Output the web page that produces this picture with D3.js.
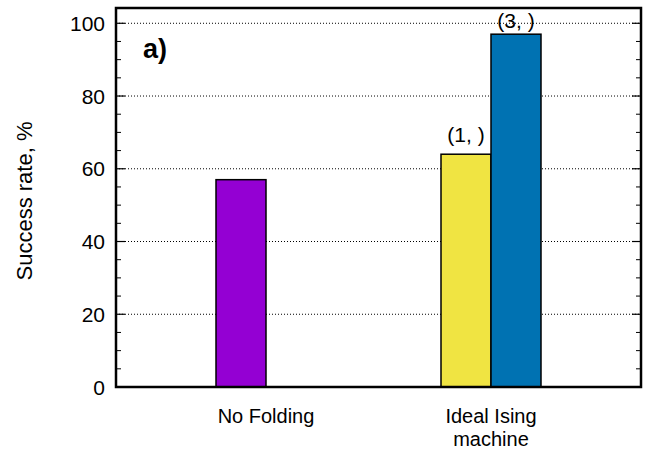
<!DOCTYPE html>
<html><head><meta charset="utf-8">
<script src="https://cdn.jsdelivr.net/npm/d3@7"></script>
<style>
html,body{margin:0;padding:0;background:#fff;}
text{font-family:"Liberation Sans",Arial,Helvetica,sans-serif;fill:#000;}
</style></head>
<body>
<svg id="chart" width="647" height="451"></svg>
<script>
// ---- data ----
const categories = [["No Folding"], ["Ideal Ising", "machine"]];
const seriesA = [57, 64];            // first bar in each group
const seriesAColors = ["#9400d3", "#f0e442"];
const seriesB = [null, 97];          // second bar in each group
const seriesBColor = "#0072b2";
const barLabels = [{cat: 1, series: 0, text: "(1, )"}, {cat: 1, series: 1, text: "(3, )"}];
const yTicks = [0, 20, 40, 60, 80, 100];
const yMinorTicks = d3.range(0, 105, 5);
const panelLabel = "a)";
const yTitle = "Success rate, %";

// ---- layout ----
const svg = d3.select("#chart");
const L = 116, R = 641, T = 8, B = 387;
const x = d3.scaleLinear().domain([-2/3, 5/3]).range([L, R]);
const y = d3.scaleLinear().domain([0, 104.2]).range([B, T]);
const bw = 2/9, off = 1/9;

// gridlines
svg.append("g").selectAll("line").data(yTicks.filter(d => d > 0)).join("line")
  .attr("x1", L).attr("x2", R).attr("y1", d => y(d)).attr("y2", d => y(d))
  .attr("stroke", "#000").attr("stroke-width", 1).attr("stroke-dasharray", "1,2");

// minor ticks (inward, both sides)
const minor = yMinorTicks.filter(d => d > 0 && d % 20 !== 0);
svg.append("g").selectAll("line").data(minor).join("line")
  .attr("x1", L).attr("x2", L + 5).attr("y1", d => y(d)).attr("y2", d => y(d))
  .attr("stroke", "#000").attr("stroke-width", 1);
svg.append("g").selectAll("line").data(minor).join("line")
  .attr("x1", R - 5).attr("x2", R).attr("y1", d => y(d)).attr("y2", d => y(d))
  .attr("stroke", "#000").attr("stroke-width", 1);
// major ticks
svg.append("g").selectAll("line").data(yTicks).join("line")
  .attr("x1", L).attr("x2", L + 9).attr("y1", d => y(d)).attr("y2", d => y(d))
  .attr("stroke", "#000").attr("stroke-width", 1.2);
svg.append("g").selectAll("line").data(yTicks).join("line")
  .attr("x1", R - 9).attr("x2", R).attr("y1", d => y(d)).attr("y2", d => y(d))
  .attr("stroke", "#000").attr("stroke-width", 1.2);

// bars
svg.append("g").selectAll("rect").data(seriesA).join("rect")
  .attr("x", (d, i) => x(i - off - bw/2)).attr("width", x(bw) - x(0))
  .attr("y", d => y(d)).attr("height", d => y(0) - y(d))
  .attr("fill", (d, i) => seriesAColors[i]).attr("stroke", "#000").attr("stroke-width", 1.5);
svg.append("g").selectAll("rect").data(seriesB.map((v, i) => ({v, i})).filter(d => d.v != null)).join("rect")
  .attr("x", d => x(d.i + off - bw/2)).attr("width", x(bw) - x(0))
  .attr("y", d => y(d.v)).attr("height", d => y(0) - y(d.v))
  .attr("fill", seriesBColor).attr("stroke", "#000").attr("stroke-width", 1.5);

// bar labels
const labelGap = [12, 6];
svg.append("g").selectAll("text").data(barLabels).join("text")
  .attr("x", d => x(d.cat + (d.series === 0 ? -off : off)))
  .attr("y", (d, i) => y(d.series === 0 ? seriesA[d.cat] : seriesB[d.cat]) - labelGap[i])
  .attr("text-anchor", "middle").attr("font-size", 21).text(d => d.text);

// frame
svg.append("rect").attr("x", L).attr("y", T).attr("width", R - L).attr("height", B - T)
  .attr("fill", "none").attr("stroke", "#000").attr("stroke-width", 2.5);

// y tick labels
svg.append("g").selectAll("text").data(yTicks).join("text")
  .attr("x", L - 11).attr("y", d => y(d)).attr("dy", "0.36em")
  .attr("text-anchor", "end").attr("font-size", 21).text(d => d);

// x tick labels
const xl = svg.append("g").selectAll("text").data(categories).join("text")
  .attr("text-anchor", "middle").attr("font-size", 20)
  .attr("x", (d, i) => x(i)).attr("y", 423);
xl.selectAll("tspan").data(d => d).join("tspan")
  .attr("x", function() { return this.parentNode.getAttribute("x"); })
  .attr("dy", (d, i) => i === 0 ? 0 : 23).text(d => d);

// y title
svg.append("text").attr("transform", "translate(32,201) rotate(-90)")
  .attr("text-anchor", "middle").attr("font-size", 22).text(yTitle);

// panel label
svg.append("text").attr("x", 143).attr("y", 58).attr("font-size", 27)
  .attr("font-weight", "bold").text(panelLabel);
</script>
</body></html>
